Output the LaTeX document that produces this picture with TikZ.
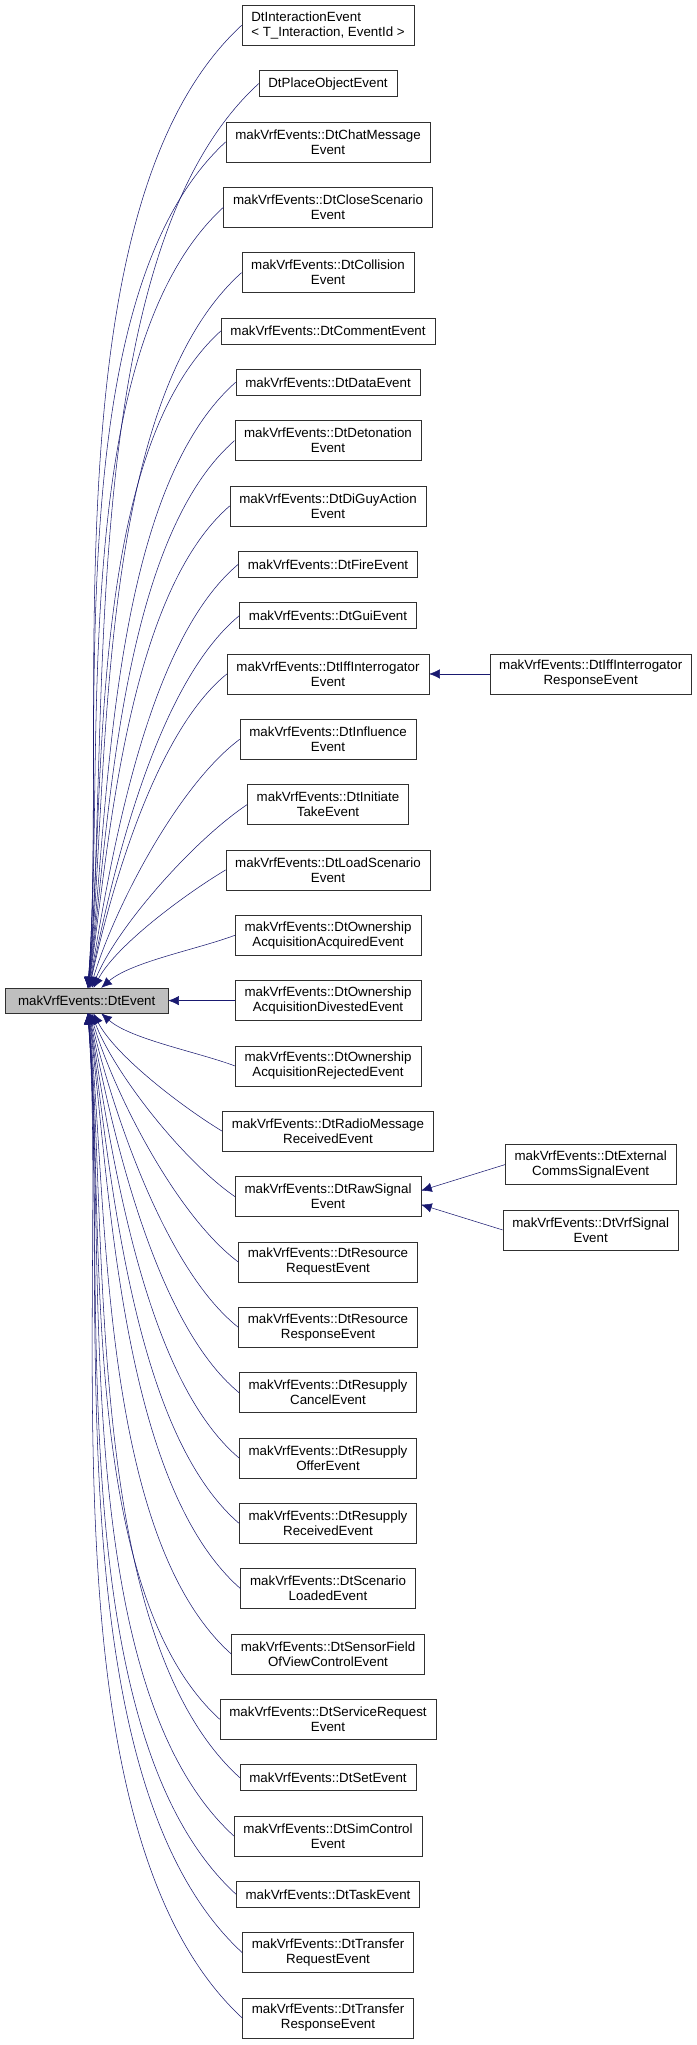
\documentclass[tikz,border=0pt]{standalone}
\usepackage{fontspec}
\setmainfont{Liberation Sans}
\usetikzlibrary{positioning,calc,arrows.meta}
\definecolor{edgeblue}{HTML}{191970}
\definecolor{rootgray}{HTML}{BFBFBF}
\definecolor{boxline}{HTML}{303030}
\tikzset{
  box/.style={draw=boxline, fill=white, font=\fontsize{10}{11.25}\selectfont,
    align=center, inner xsep=7pt, inner ysep=2pt},
  onel/.style={box, minimum height=19.5pt},
  twol/.style={box, minimum height=30pt},
  edge/.style={draw=edgeblue, {Latex[length=8pt,width=7pt]}-}
}
\begin{document}
\begin{tikzpicture}[node distance=18.6pt]
  \useasboundingbox (0,0) rectangle (522pt,-1533.75pt);
  % children of DtEvent, top to bottom
  \node[twol, align=left, anchor=north] (c1) at (246pt,-3.75pt)
    {DtInteractionEvent\\< T\_Interaction, EventId >};
  \node[onel, below=of c1] (c2) {DtPlaceObjectEvent};
  \node[twol, below=of c2] (c3) {makVrfEvents::DtChatMessage\\Event};
  \node[twol, below=of c3] (c4) {makVrfEvents::DtCloseScenario\\Event};
  \node[twol, below=of c4] (c5) {makVrfEvents::DtCollision\\Event};
  \node[onel, below=of c5] (c6) {makVrfEvents::DtCommentEvent};
  \node[onel, below=of c6] (c7) {makVrfEvents::DtDataEvent};
  \node[twol, below=of c7] (c8) {makVrfEvents::DtDetonation\\Event};
  \node[twol, below=of c8] (c9) {makVrfEvents::DtDiGuyAction\\Event};
  \node[onel, below=of c9] (c10) {makVrfEvents::DtFireEvent};
  \node[onel, below=of c10] (c11) {makVrfEvents::DtGuiEvent};
  \node[twol, below=of c11] (c12) {makVrfEvents::DtIffInterrogator\\Event};
  \node[twol, below=of c12] (c13) {makVrfEvents::DtInfluence\\Event};
  \node[twol, below=of c13] (c14) {makVrfEvents::DtInitiate\\TakeEvent};
  \node[twol, below=of c14] (c15) {makVrfEvents::DtLoadScenario\\Event};
  \node[twol, below=of c15] (c16) {makVrfEvents::DtOwnership\\AcquisitionAcquiredEvent};
  \node[twol, below=of c16] (c17) {makVrfEvents::DtOwnership\\AcquisitionDivestedEvent};
  \node[twol, below=of c17] (c18) {makVrfEvents::DtOwnership\\AcquisitionRejectedEvent};
  \node[twol, below=of c18] (c19) {makVrfEvents::DtRadioMessage\\ReceivedEvent};
  \node[twol, below=of c19] (c20) {makVrfEvents::DtRawSignal\\Event};
  \node[twol, below=of c20] (c21) {makVrfEvents::DtResource\\RequestEvent};
  \node[twol, below=of c21] (c22) {makVrfEvents::DtResource\\ResponseEvent};
  \node[twol, below=of c22] (c23) {makVrfEvents::DtResupply\\CancelEvent};
  \node[twol, below=of c23] (c24) {makVrfEvents::DtResupply\\OfferEvent};
  \node[twol, below=of c24] (c25) {makVrfEvents::DtResupply\\ReceivedEvent};
  \node[twol, below=of c25] (c26) {makVrfEvents::DtScenario\\LoadedEvent};
  \node[twol, below=of c26] (c27) {makVrfEvents::DtSensorField\\OfViewControlEvent};
  \node[twol, below=of c27] (c28) {makVrfEvents::DtServiceRequest\\Event};
  \node[onel, below=of c28] (c29) {makVrfEvents::DtSetEvent};
  \node[twol, below=of c29] (c30) {makVrfEvents::DtSimControl\\Event};
  \node[onel, below=of c30] (c31) {makVrfEvents::DtTaskEvent};
  \node[twol, below=of c31] (c32) {makVrfEvents::DtTransfer\\RequestEvent};
  \node[twol, below=of c32] (c33) {makVrfEvents::DtTransfer\\ResponseEvent};
  % base class
  \node[onel, fill=rootgray, minimum width=122pt, minimum height=18.75pt]
    (root) at (65pt,0 |- c17) {makVrfEvents::DtEvent};
  % second level
  \coordinate (rcol) at (443pt,0);
  \node[twol] (iffresp) at (rcol |- c12)
    {makVrfEvents::DtIffInterrogator\\ResponseEvent};
  \node[twol] (extsig) at ($(rcol |- c20)+(0,24pt)$)
    {makVrfEvents::DtExternal\\CommsSignalEvent};
  \node[twol] (vrfsig) at ($(rcol |- c20)+(0,-25pt)$)
    {makVrfEvents::DtVrfSignal\\Event};
  % edges
  \foreach \c in {c1,c2,c3,c4,c5,c6,c7,c8,c9,c10,c11,c12,c13,c14,c15,c16,
                  c17,c18,c19,c20,c21,c22,c23,c24,c25,c26,c27,c28,c29,c30,
                  c31,c32,c33}
    \draw[edge] let \p1=($(\c.west)-(root.center)$),
      \n1={atan2(\y1,0.5*\x1)}, \n2={180+0.5*\n1} in
      (root) to[out=\n1, in=\n2, looseness=0.7] (\c.west);
  \draw[edge] (c12.east) -- (iffresp.west);
  \draw[edge] ([yshift=4.5pt]c20.east) -- (extsig.west);
  \draw[edge] ([yshift=-6pt]c20.east) -- (vrfsig.west);
\end{tikzpicture}
\end{document}
